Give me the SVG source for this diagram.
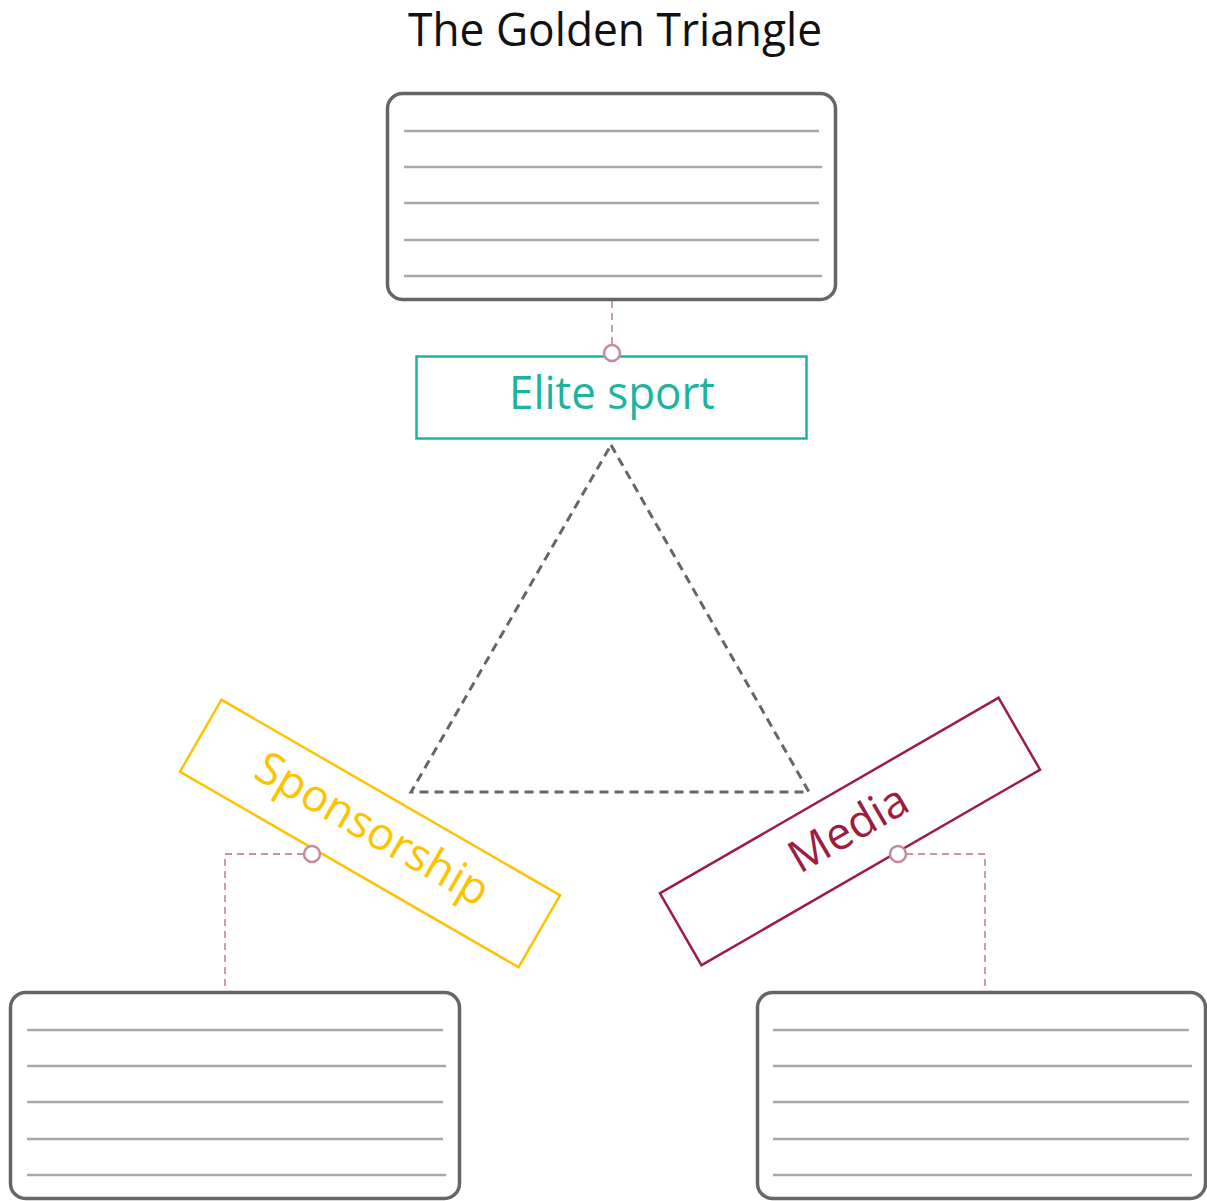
<svg xmlns="http://www.w3.org/2000/svg" width="1207" height="1201" viewBox="0 0 1207 1201">
  <style>
    .card { fill: #ffffff; stroke: #666666; stroke-width: 3.5; }
    .rule { stroke: #a8a8a8; stroke-width: 2.6; }
    .label { font-family: "Open Sans", "Noto Sans", sans-serif; font-size: 45px; text-anchor: middle; }
    .tri { fill: none; stroke: #666666; stroke-width: 3; stroke-dasharray: 9 6; }
    .link { fill: none; stroke: #c993a4; stroke-width: 1.8; stroke-dasharray: 7 5; }
    .port { fill: #ffffff; stroke: #c48a9c; stroke-width: 2.5; }
  </style>
  <rect width="1207" height="1201" fill="#ffffff"/>

  <text id="title" x="615" y="46" class="label" fill="#111111" textLength="414" lengthAdjust="spacingAndGlyphs">The Golden Triangle</text>

  <!-- dashed triangle and dashed links between cards and labels -->
  <g id="connectors">
    <path class="tri" d="M611 445 L809 792 L411 792 Z"/>
    <path class="link" d="M612 301 V345"/>
    <path class="link" d="M304 854 H225 V992"/>
    <path class="link" d="M906 854 H985 V992"/>
  </g>

  <g id="card-top">
    <rect class="card" x="387.5" y="93.5" width="448" height="206" rx="15"/>
    <path class="rule" d="M404 131 H819 M404 167 H822 M404 203 H819 M404 240 H819 M404 276 H822"/>
  </g>

  <g id="card-left">
    <rect class="card" x="10.5" y="992.5" width="449" height="206" rx="15"/>
    <path class="rule" d="M27 1030 H443 M27 1066 H446 M27 1102 H443 M27 1139 H443 M27 1175 H446"/>
  </g>

  <g id="card-right">
    <rect class="card" x="757.5" y="992.5" width="448" height="206" rx="15"/>
    <path class="rule" d="M773 1030 H1189 M773 1066 H1192 M773 1102 H1189 M773 1139 H1189 M773 1175 H1192"/>
  </g>

  <g id="elite-sport">
    <rect x="416.5" y="356.5" width="390" height="82" fill="#ffffff" stroke="#1db39e" stroke-width="2.5"/>
    <text x="612" y="409" class="label" fill="#1db39e" textLength="206" lengthAdjust="spacingAndGlyphs">Elite sport</text>
    <circle class="port" cx="612" cy="353" r="8"/>
  </g>

  <g id="sponsorship">
    <g transform="translate(370 833.5) rotate(30)">
      <rect x="-195.5" y="-41.5" width="391" height="83" fill="none" stroke="#fdc300" stroke-width="2.5"/>
      <text x="0" y="10" class="label" fill="#fdc300">Sponsorship</text>
    </g>
    <circle class="port" cx="312" cy="854" r="8"/>
  </g>

  <g id="media">
    <g transform="translate(850 831.5) rotate(-30)">
      <rect x="-195.5" y="-41.5" width="391" height="83" fill="none" stroke="#9e1c3f" stroke-width="2.5"/>
      <text x="0" y="12" class="label" fill="#9e1c3f">Media</text>
    </g>
    <circle class="port" cx="898" cy="854" r="8"/>
  </g>
</svg>
